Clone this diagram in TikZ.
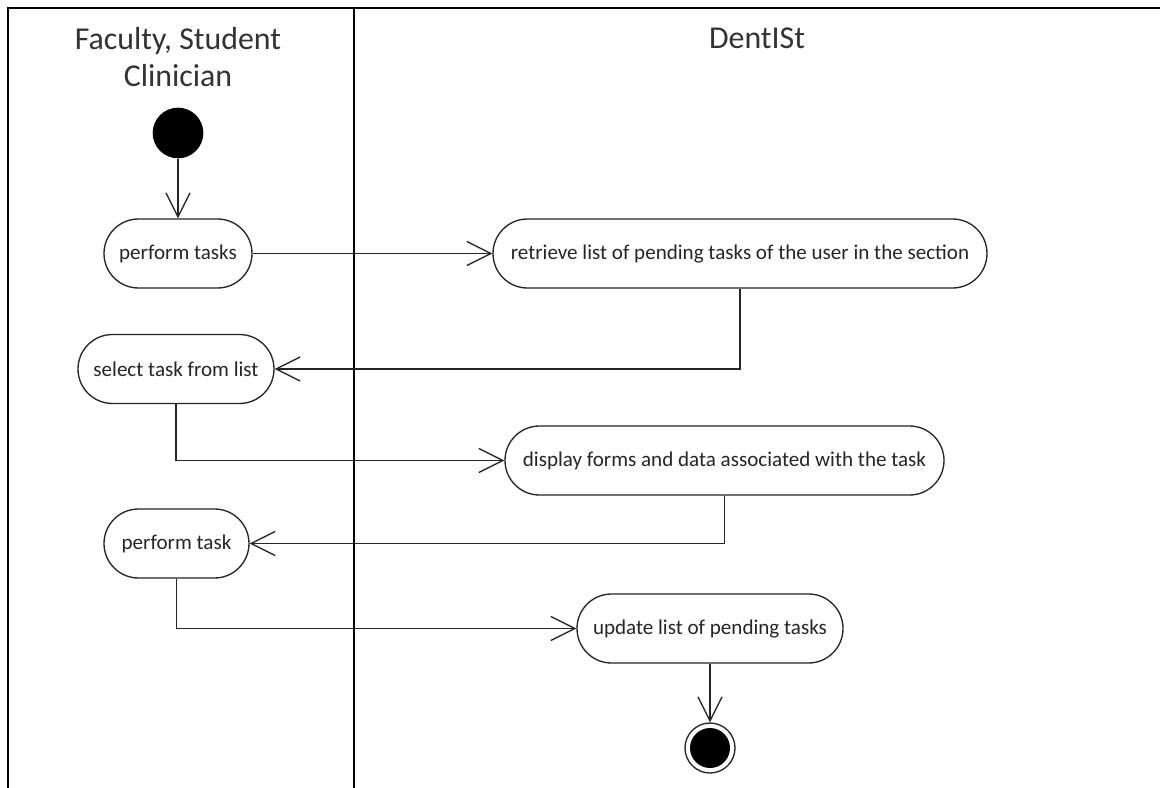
\documentclass[tikz,border=0pt]{standalone}
\usepackage{fontspec}
\setmainfont{Carlito}
\usetikzlibrary{arrows.meta}
\begin{document}
\begin{tikzpicture}[x=0.75pt, y=-0.75pt,
  lane/.style={line width=1.4pt, draw=black},
  action/.style={draw=black!85, line width=1pt, rounded corners=25.875pt,
    minimum height=51.75pt, inner sep=0pt, font=\fontsize{15.8pt}{19pt}\selectfont, text=black!85},
  flow/.style={line width=1.3pt, draw=black!85, -{Straight Barb[length=18pt, width=18pt, line width=1pt]}},
  heading/.style={font=\fontsize{23.9pt}{27.75pt}\selectfont, text=black!80, align=center}
]
\useasboundingbox (0,0) rectangle (1160,788);
\fill[white] (0,0) rectangle (1160,788);

% swimlane frame
\draw[lane] (1160,8) -- (8,8) -- (8,788);
\draw[lane] (354,8) -- (354,788);

% lane titles
\node[heading] (laneA) at (178,57) {Faculty, Student\\Clinician};
\node[heading] (laneB) at (757,38) {DentISt};

% start and end states
\node[circle, fill=black, minimum size=38pt, inner sep=0pt] (init) at (178,133) {};
\node[circle, draw=black!85, line width=1pt, minimum size=37.5pt, inner sep=0pt] (final) at (710,748) {};
\fill[black] (final.center) circle (15pt);

% actions
\node[action, minimum width=111pt]    (pt1)  at (178,253.5) {perform tasks};
\node[action, minimum width=370.5pt]  (retr) at (740,253.5) {retrieve list of pending tasks of the user in the section};
\node[action, minimum width=147pt]    (sel)  at (176,369)   {select task from list};
\node[action, minimum width=329.25pt] (disp) at (724.5,460.5) {display forms and data associated with the task};
\node[action, minimum width=108.75pt] (pt2)  at (176.5,543.5) {perform task};
\node[action, minimum width=199.5pt]  (upd)  at (710,628.5) {update list of pending tasks};

% control flow
\draw[flow] (init) -- (pt1);
\draw[flow] (pt1) -- (retr);
\draw[flow] (retr.south) |- (sel.east);
\draw[flow] (sel.south) |- (disp.west);
\draw[flow] (disp.south) |- (pt2.east);
\draw[flow] (pt2.south) |- (upd.west);
\draw[flow] (upd) -- (final);
\end{tikzpicture}
\end{document}
